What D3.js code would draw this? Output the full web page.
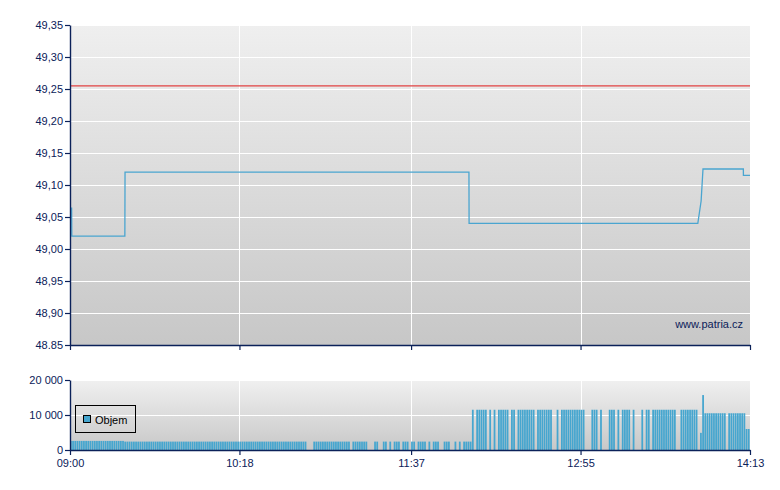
<!DOCTYPE html>
<html>
<head>
<meta charset="utf-8">
<script src="https://cdn.jsdelivr.net/npm/d3@7"></script>
<style>
  body { margin: 0; background: #ffffff; }
  svg { display: block; font-family: "Liberation Sans", Arial, sans-serif; }
</style>
</head>
<body>
<svg id="chart" width="780" height="490"></svg>
<script>
// price ticks (the last label really uses a dot in the source chart)
const priceTicks = [49.35, 49.30, 49.25, 49.20, 49.15, 49.10, 49.05, 49.00, 48.95, 48.90, 48.85];
const priceTickLabels = ['49,35', '49,30', '49,25', '49,20', '49,15', '49,10', '49,05', '49,00', '48,95', '48,90', '48.85'];
const volumeTicks = [0, 10000, 20000];
const volumeTickLabels = ['0', '10 000', '20 000'];
const timeTickLabels = ['09:00', '10:18', '11:37', '12:55', '14:13'];

const referencePrice = 49.255;

// intraday price path
const priceTimes = ['09:00:45', '09:00:50', '09:25:15', '09:25:20', '12:03:38', '12:03:42',
  '13:48:59', '13:50:30', '13:51:22', '14:09:56', '14:09:58', '14:13:00'];
const priceValues = [49.065, 49.02, 49.02, 49.12, 49.12, 49.04,
  49.04, 49.075, 49.125, 49.125, 49.115, 49.115];

// volume per minute from 09:00
const volumeStart = '09:00:00';
const volumeValues = [
  2600, 2600, 2600, 2600, 2600, 2600, 2600, 2600, 2600, 2600,
  2600, 2600, 2600, 2600, 2600, 2600, 2600, 2600, 2600, 2600,
  2600, 2600, 2600, 2600, 2600, 2400, 2400, 2400, 2400, 2400,
  2400, 2400, 2400, 2400, 2400, 2400, 2400, 2400, 2400, 2400,
  2400, 2400, 2400, 2400, 2400, 2400, 2400, 2400, 2400, 2400,
  2400, 2400, 2400, 2400, 2400, 2400, 2400, 2400, 2400, 2400,
  2400, 2400, 2400, 2400, 2400, 2400, 2400, 2400, 2400, 2400,
  2400, 2400, 2400, 2400, 2400, 2400, 2400, 2400, 2400, 2400,
  2400, 2400, 2400, 2400, 2400, 2400, 2400, 2400, 2400, 2400,
  2400, 2400, 2400, 2400, 2400, 2400, 2400, 2400, 2400, 2400,
  2400, 2400, 2400, 2400, 2400, 2400, 2400, 2400, 2400, 0,
  0, 0, 2400, 2400, 2400, 2400, 2400, 2400, 2400, 2400,
  2400, 2400, 2400, 2400, 2400, 2400, 2400, 2400, 2400, 0,
  2400, 2400, 2400, 2400, 2400, 2400, 2400, 0, 0, 0,
  2400, 2400, 0, 0, 2400, 2400, 0, 2400, 0, 2400,
  2400, 2400, 0, 2400, 2400, 2400, 0, 2400, 2400, 0,
  2400, 2400, 2400, 2400, 0, 2400, 0, 2400, 2400, 2400,
  0, 0, 2400, 2400, 2400, 0, 0, 2400, 0, 2400,
  0, 2400, 2400, 2400, 2400, 11500, 0, 11500, 11500, 11500,
  11500, 11500, 0, 11500, 0, 11500, 0, 11500, 11500, 11500,
  11500, 11500, 0, 11500, 11500, 0, 11500, 11500, 11500, 11500,
  11500, 11500, 11500, 11500, 0, 11500, 11500, 11500, 11500, 11500,
  11500, 11500, 0, 0, 11500, 0, 11500, 11500, 11500, 11500,
  11500, 11500, 11500, 11500, 11500, 11500, 11500, 0, 0, 0,
  11500, 11500, 11500, 0, 11500, 0, 0, 0, 11500, 11500,
  11500, 0, 11500, 0, 11500, 11500, 11500, 11500, 0, 11500,
  0, 0, 0, 11500, 0, 11500, 11500, 0, 11500, 11500,
  11500, 11500, 11500, 11500, 11500, 11500, 11500, 11500, 11500, 0,
  0, 11500, 11500, 11500, 11500, 11500, 11500, 11500, 11500, 0,
  4900, 15700, 10500, 10500, 10500, 10500, 10500, 10500, 10500, 10500,
  10500, 10500, 0, 10500, 10500, 10500, 10500, 10500, 10500, 10500,
  10500, 6000, 6000
];

const AXIS_COLOR = '#0b2159';
const LINE_COLOR = '#4aa5d0';
const BAR_COLOR = '#46a6cf';
const REF_COLOR = '#e24343';

const LEFT = 70;
const RIGHT = 750;
const PRICE_TOP = 25;
const PRICE_BOTTOM = 345;
const VOL_TOP = 380;
const VOL_BOTTOM = 450;

const parseTime = d3.timeParse('%H:%M:%S');
const t = (s) => parseTime(s.length === 5 ? s + ':00' : s);

const svg = d3.select('#chart');

const xScale = d3.scaleTime()
  .domain([t(timeTickLabels[0]), t(timeTickLabels[timeTickLabels.length - 1])])
  .range([LEFT, RIGHT]);

const priceScale = d3.scaleLinear()
  .domain([d3.min(priceTicks), d3.max(priceTicks)])
  .range([PRICE_BOTTOM, PRICE_TOP]);

const volumeScale = d3.scaleLinear()
  .domain([d3.min(volumeTicks), d3.max(volumeTicks)])
  .range([VOL_BOTTOM, VOL_TOP]);

const timeTicks = timeTickLabels.map(t);

function addGradient(id, top, bottom) {
  const g = svg.select('defs').append('linearGradient')
    .attr('id', id)
    .attr('x1', 0).attr('y1', 0).attr('x2', 0).attr('y2', 1);
  g.append('stop').attr('offset', '0%').attr('stop-color', top);
  g.append('stop').attr('offset', '100%').attr('stop-color', bottom);
}

function drawPanel(yScale, yTicks, gradientId) {
  const [bottom, top] = yScale.range();
  svg.append('rect')
    .attr('x', LEFT)
    .attr('y', top)
    .attr('width', RIGHT - LEFT)
    .attr('height', bottom - top)
    .attr('fill', `url(#${gradientId})`);

  svg.append('g')
    .selectAll('line')
    .data(yTicks.filter((d) => d !== yScale.domain()[0]))
    .join('line')
    .attr('x1', LEFT)
    .attr('x2', RIGHT)
    .attr('y1', (d) => Math.round(yScale(d)) + 0.5)
    .attr('y2', (d) => Math.round(yScale(d)) + 0.5)
    .attr('stroke', '#ffffff')
    .attr('stroke-width', 1);

  svg.append('g')
    .selectAll('line')
    .data(timeTicks.slice(1, -1))
    .join('line')
    .attr('x1', (d) => Math.round(xScale(d)) + 0.5)
    .attr('x2', (d) => Math.round(xScale(d)) + 0.5)
    .attr('y1', top)
    .attr('y2', bottom)
    .attr('stroke', '#ffffff')
    .attr('stroke-width', 1);
}

function styleAxis(g) {
  g.select('.domain').attr('stroke', AXIS_COLOR).attr('stroke-width', 1.4);
  g.selectAll('.tick line').attr('stroke', AXIS_COLOR).attr('stroke-width', 1.2);
  g.selectAll('.tick text').attr('fill', AXIS_COLOR).style('font-size', '11px');
}

function drawPrice() {
  svg.append('line')
    .attr('x1', LEFT)
    .attr('x2', RIGHT)
    .attr('y1', priceScale(referencePrice))
    .attr('y2', priceScale(referencePrice))
    .attr('stroke', REF_COLOR)
    .attr('stroke-width', 1.2);

  const points = priceTimes.map((d, i) => [t(d), priceValues[i]]);
  svg.append('path')
    .datum(points)
    .attr('fill', 'none')
    .attr('stroke', LINE_COLOR)
    .attr('stroke-width', 1.3)
    .attr('d', d3.line()
      .x((d) => xScale(d[0]))
      .y((d) => priceScale(d[1])));

  svg.append('text')
    .attr('x', 743)
    .attr('y', 328)
    .attr('text-anchor', 'end')
    .attr('fill', AXIS_COLOR)
    .style('font-size', '11px')
    .text('www.patria.cz');
}

function drawVolume() {
  const start = t(volumeStart);
  const bars = volumeValues
    .map((v, i) => ({ time: d3.timeMinute.offset(start, i), value: v }))
    .filter((d) => d.value > 0);

  svg.append('g')
    .selectAll('rect')
    .data(bars)
    .join('rect')
    .attr('x', (d) => xScale(d.time))
    .attr('width', (d) => xScale(d3.timeMinute.offset(d.time, 1)) - xScale(d.time) - 0.4)
    .attr('y', (d) => volumeScale(d.value))
    .attr('height', (d) => VOL_BOTTOM - volumeScale(d.value))
    .attr('fill', BAR_COLOR);

  const legend = svg.append('g');
  legend.append('rect')
    .attr('x', 75.5).attr('y', 405.5)
    .attr('width', 60).attr('height', 27)
    .attr('fill', 'none')
    .attr('stroke', '#000000');
  legend.append('rect')
    .attr('x', 83.5).attr('y', 415.5)
    .attr('width', 7).attr('height', 7)
    .attr('fill', BAR_COLOR)
    .attr('stroke', '#000000');
  legend.append('text')
    .attr('x', 95).attr('y', 424)
    .attr('fill', '#000000')
    .style('font-size', '11px')
    .text('Objem');
}

function drawAxes() {
  svg.append('g')
    .attr('transform', `translate(${LEFT},0)`)
    .call(d3.axisLeft(priceScale)
      .tickValues(priceTicks)
      .tickFormat((d, i) => priceTickLabels[i])
      .tickSize(5)
      .tickPadding(2)
      .tickSizeOuter(0))
    .call(styleAxis);

  svg.append('g')
    .attr('transform', `translate(0,${PRICE_BOTTOM})`)
    .call(d3.axisBottom(xScale)
      .tickValues(timeTicks)
      .tickFormat('')
      .tickSize(5)
      .tickSizeOuter(0))
    .call(styleAxis);

  svg.append('g')
    .attr('transform', `translate(${LEFT},0)`)
    .call(d3.axisLeft(volumeScale)
      .tickValues(volumeTicks)
      .tickFormat((d, i) => volumeTickLabels[i])
      .tickSize(5)
      .tickPadding(2)
      .tickSizeOuter(0))
    .call(styleAxis);

  svg.append('g')
    .attr('transform', `translate(0,${VOL_BOTTOM})`)
    .call(d3.axisBottom(xScale)
      .tickValues(timeTicks)
      .tickFormat((d, i) => timeTickLabels[i])
      .tickSize(5)
      .tickPadding(4)
      .tickSizeOuter(0))
    .call(styleAxis);
}

svg.append('defs');
addGradient('price-bg', '#efefef', '#c7c7c7');
addGradient('volume-bg', '#f0f0f0', '#c8c8c8');

drawPanel(priceScale, priceTicks, 'price-bg');
drawPrice();
drawPanel(volumeScale, volumeTicks, 'volume-bg');
drawVolume();
drawAxes();
</script>
</body>
</html>
